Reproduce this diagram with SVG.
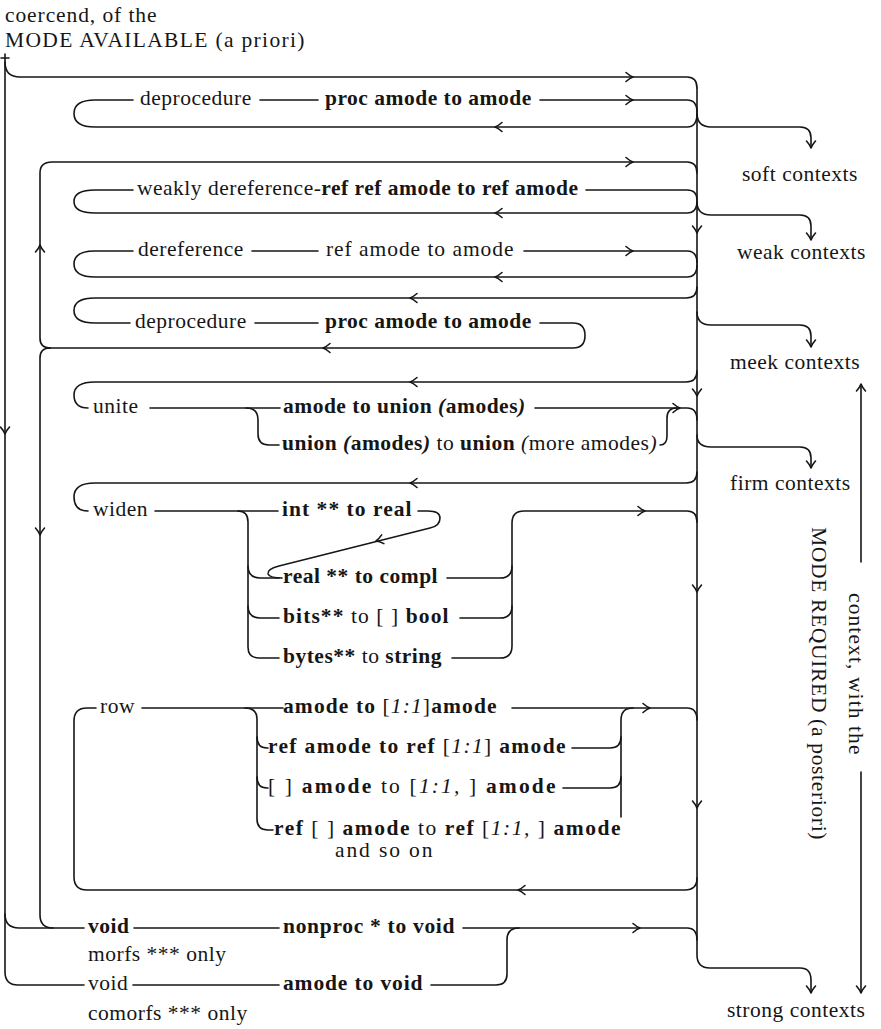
<svg xmlns="http://www.w3.org/2000/svg" xmlns:xlink="http://www.w3.org/1999/xlink" width="881" height="1029" viewBox="0 0 881 1029">
<style>
.t{font-family:"Liberation Serif","Times New Roman",serif;font-size:21.5px;fill:#161616;letter-spacing:0.5px}
.b{font-weight:bold}
.i{font-style:italic}
.ln{fill:none;stroke:#161616;stroke-width:1.6;stroke-linecap:round;stroke-linejoin:round}
</style>
<defs>
<path id="ar" class="ln" d="M-7,-4.5 Q-3,-1 0,0 Q-3,1 -7,4.5"/>
</defs>
<rect width="881" height="1029" fill="#ffffff"/>

<g id="header">
<text class="t" x="5" y="22" textLength="152" lengthAdjust="spacing">coercend, of the</text>
<text class="t" x="5" y="47" textLength="300" lengthAdjust="spacing">MODE AVAILABLE (a priori)</text>
</g>

<g id="n-deprocedure-1">
<text class="t" x="140" y="105">deprocedure</text>
<text class="t b" x="325" y="105">proc amode to amode</text>
</g>
<g id="n-weakly-dereference">
<text class="t" x="137" y="195">weakly dereference-<tspan class="b">ref ref amode to ref amode</tspan></text>
</g>
<g id="n-dereference">
<text class="t" x="138" y="256">dereference</text>
<text class="t" x="326" y="256" textLength="188" lengthAdjust="spacing">ref amode to amode</text>
</g>
<g id="n-deprocedure-2">
<text class="t" x="135" y="328">deprocedure</text>
<text class="t b" x="325" y="328">proc amode to amode</text>
</g>
<g id="n-unite">
<text class="t" x="93" y="413">unite</text>
<text class="t b" x="283" y="413">amode to union <tspan class="i">(</tspan>amodes<tspan class="i">)</tspan></text>
<text class="t" x="282" y="450"><tspan class="b">union </tspan><tspan class="b i">(</tspan><tspan class="b">amodes</tspan><tspan class="b i">)</tspan> to <tspan class="b">union</tspan> <tspan class="i">(</tspan>more amodes<tspan class="i">)</tspan></text>
</g>
<g id="n-widen">
<text class="t" x="93" y="516">widen</text>
<text class="t b" x="282" y="516" textLength="130" lengthAdjust="spacing">int ** to real</text>
<text class="t b" x="283" y="583">real ** to compl</text>
<text class="t" x="283" y="623" textLength="166" lengthAdjust="spacing"><tspan class="b">bits**</tspan> to [ ] <tspan class="b">bool</tspan></text>
<text class="t" x="283" y="663"><tspan class="b">bytes**</tspan> to <tspan class="b">string</tspan></text>
</g>
<g id="n-row">
<text class="t" x="100" y="713">row</text>
<text class="t" x="283" y="713" textLength="214" lengthAdjust="spacing"><tspan class="b">amode to </tspan>[<tspan class="i">1:1</tspan>]<tspan class="b">amode</tspan></text>
<text class="t" x="268" y="753" textLength="298" lengthAdjust="spacing"><tspan class="b">ref amode to ref </tspan>[<tspan class="i">1:1</tspan>] <tspan class="b">amode</tspan></text>
<text class="t" x="268" y="793" textLength="288" lengthAdjust="spacing">[ ] <tspan class="b">amode</tspan> to [<tspan class="i">1:1,</tspan>  ] <tspan class="b">amode</tspan></text>
<text class="t" x="274" y="835" textLength="347" lengthAdjust="spacing"><tspan class="b">ref</tspan> [ ] <tspan class="b">amode</tspan> to <tspan class="b">ref</tspan> [<tspan class="i">1:1,</tspan>  ] <tspan class="b">amode</tspan></text>
<text class="t" x="335" y="857" textLength="98" lengthAdjust="spacing">and so on</text>
</g>
<g id="n-void-morfs">
<text class="t b" x="88" y="933">void</text>
<text class="t b" x="283" y="933" textLength="172" lengthAdjust="spacing">nonproc * to void</text>
<text class="t" x="88" y="961">morfs *** only</text>
</g>
<g id="n-void-comorfs">
<text class="t" x="88" y="990">void</text>
<text class="t b" x="283" y="990" textLength="140" lengthAdjust="spacing">amode to void</text>
<text class="t" x="88" y="1020">comorfs *** only</text>
</g>

<g id="ctx-soft"><text class="t" x="742" y="181">soft contexts</text></g>
<g id="ctx-weak"><text class="t" x="737" y="259">weak contexts</text></g>
<g id="ctx-meek"><text class="t" x="730" y="369">meek contexts</text></g>
<g id="ctx-firm"><text class="t" x="730" y="490">firm contexts</text></g>
<g id="ctx-strong"><text class="t" x="727" y="1017">strong contexts</text></g>
<g id="mode-required">
<text class="t" transform="translate(812,527) rotate(90)" textLength="313" lengthAdjust="spacing">MODE REQUIRED (a posteriori)</text>
<text class="t" transform="translate(849,593) rotate(90)" textLength="162" lengthAdjust="spacing">context, with the</text>
</g>

<g id="connectors">
<path class="ln" d="M5,54 L5,972 Q5,985 18,985 L84,985"/>
<path class="ln" d="M1,58 L9,58"/>
<path class="ln" d="M5,62 Q5,77 20,77 L687,77 Q697,77 697,88"/>
<path class="ln" d="M5,914 Q5,928 19,928 L84,928"/>
<path class="ln" d="M50,348 Q40,348 40,338 L40,173 Q40,162 52,162 L687,162 Q697,162 697,173"/>
<path class="ln" d="M50,348 Q40,348 40,358 L40,915 Q40,928 53,928"/>
<path class="ln" d="M133,100 L95,100 Q74,100 74,113.5 Q74,127 95,127 L687,127 Q697,127 697,114"/>
<path class="ln" d="M260,100 L318,100"/>
<path class="ln" d="M540,100 L687,100 Q697,100 697,112"/>
<path class="ln" d="M133,190 L95,190 Q74,190 74,201.5 Q74,213 95,213 L687,213 Q697,213 697,201"/>
<path class="ln" d="M586,190 L687,190 Q697,190 697,200"/>
<path class="ln" d="M133,251 L95,251 Q74,251 74,264 Q74,277 95,277 L687,277 Q697,277 697,265"/>
<path class="ln" d="M252,251 L318,251"/>
<path class="ln" d="M524,251 L687,251 Q697,251 697,263"/>
<path class="ln" d="M697,287 Q697,298 686,298 L95,298 Q74,298 74,310.5 Q74,323 95,323 L130,323"/>
<path class="ln" d="M255,323 L318,323"/>
<path class="ln" d="M540,323 L573,323 Q585,323 585,335.5 Q585,348 573,348 L50,348"/>
<path class="ln" d="M697,371 Q697,382 686,382 L95,382 Q74,382 74,395 Q74,408 88,408"/>
<path class="ln" d="M150,408 L280,408"/>
<path class="ln" d="M246,408 Q258,408 258,420 L258,434 Q258,445 269,445 L279,445"/>
<path class="ln" d="M535,408 L687,408 Q697,408 697,420"/>
<path class="ln" d="M660,445 Q667,445 667,436 L667,418 Q667,408 677,408"/>
<path class="ln" d="M697,472 Q697,483 686,483 L95,483 Q74,483 74,497 Q74,511 88,511"/>
<path class="ln" d="M155,511 L278,511"/>
<path class="ln" d="M238,511 Q248,511 248,522 L248,647 Q248,658 259,658 L279,658"/>
<path class="ln" d="M248,566 Q248,578 260,578 L279,578"/>
<path class="ln" d="M248,606 Q248,618 260,618 L279,618"/>
<path class="ln" d="M418,511 L428,511 Q440,511 440,518 Q440,526 430,528 L279,566 Q267,569 268,574 Q270,578 282,578"/>
<path class="ln" d="M447,578 L500,578 Q512,578 512,566"/>
<path class="ln" d="M460,618 L500,618 Q512,618 512,606"/>
<path class="ln" d="M452,658 L500,658 Q512,658 512,646 L512,523 Q512,511 524,511 L687,511 Q697,511 697,522"/>
<path class="ln" d="M697,878 Q697,890 685,890 L87,890 Q74,890 74,877 L74,721 Q74,708 87,708 L96,708"/>
<path class="ln" d="M142,708 L283,708"/>
<path class="ln" d="M245,708 Q257,708 257,719 L257,819 Q257,830 268,830 L273,830"/>
<path class="ln" d="M257,737 Q257,748 267,748 L268,748"/>
<path class="ln" d="M257,777 Q257,788 267,788 L268,788"/>
<path class="ln" d="M512,708 L687,708 Q697,708 697,720"/>
<path class="ln" d="M572,748 L610,748 Q621,748 621,737"/>
<path class="ln" d="M563,788 L610,788 Q621,788 621,777"/>
<path class="ln" d="M621,817 L621,720 Q621,708 633,708"/>
<path class="ln" d="M134,928 L279,928"/>
<path class="ln" d="M463,928 L687,928 Q697,928 697,940"/>
<path class="ln" d="M133,985 L279,985"/>
<path class="ln" d="M431,985 L496,985 Q507,985 507,974 L507,940 Q507,928 519,928"/>
<path class="ln" d="M697,88 L697,955 Q697,968 710,968 L800,968 Q811,968 811,980 L811,992"/>
<path class="ln" d="M697,113 Q697,127 711,127 L800,127 Q811,127 811,138 L811,147"/>
<path class="ln" d="M697,202 Q697,215 711,215 L800,215 Q811,215 811,226 L811,239"/>
<path class="ln" d="M697,312 Q697,325 711,325 L800,325 Q811,325 811,336 L811,346"/>
<path class="ln" d="M697,435 Q697,447 711,447 L800,447 Q811,447 811,458 L811,467"/>
<path class="ln" d="M861,385 L861,562"/>
<path class="ln" d="M861,772 L861,992"/>

<use xlink:href="#ar" transform="translate(633,77)"/>
<use xlink:href="#ar" transform="translate(633,100)"/>
<use xlink:href="#ar" transform="translate(633,162)"/>
<use xlink:href="#ar" transform="translate(633,251)"/>
<use xlink:href="#ar" transform="translate(680,408)"/>
<use xlink:href="#ar" transform="translate(645,511)"/>
<use xlink:href="#ar" transform="translate(650,708)"/>
<use xlink:href="#ar" transform="translate(640,928)"/>
<use xlink:href="#ar" transform="translate(495,127) rotate(180)"/>
<use xlink:href="#ar" transform="translate(495,213) rotate(180)"/>
<use xlink:href="#ar" transform="translate(495,277) rotate(180)"/>
<use xlink:href="#ar" transform="translate(410,298) rotate(180)"/>
<use xlink:href="#ar" transform="translate(323,348) rotate(180)"/>
<use xlink:href="#ar" transform="translate(410,382) rotate(180)"/>
<use xlink:href="#ar" transform="translate(410,483) rotate(180)"/>
<use xlink:href="#ar" transform="translate(518,890) rotate(180)"/>
<use xlink:href="#ar" transform="translate(376,541) rotate(165.6)"/>
<use xlink:href="#ar" transform="translate(697,233) rotate(90)"/>
<use xlink:href="#ar" transform="translate(697,396) rotate(90)"/>
<use xlink:href="#ar" transform="translate(697,592) rotate(90)"/>
<use xlink:href="#ar" transform="translate(697,808) rotate(90)"/>
<use xlink:href="#ar" transform="translate(5,434) rotate(90)"/>
<use xlink:href="#ar" transform="translate(40,535) rotate(90)"/>
<use xlink:href="#ar" transform="translate(40,245) rotate(-90)"/>
<use xlink:href="#ar" transform="translate(811,148) rotate(90)"/>
<use xlink:href="#ar" transform="translate(811,240) rotate(90)"/>
<use xlink:href="#ar" transform="translate(811,347) rotate(90)"/>
<use xlink:href="#ar" transform="translate(811,468) rotate(90)"/>
<use xlink:href="#ar" transform="translate(811,993) rotate(90)"/>
<use xlink:href="#ar" transform="translate(861,993) rotate(90)"/>
<use xlink:href="#ar" transform="translate(861,384) rotate(-90)"/>
</g>
</svg>
